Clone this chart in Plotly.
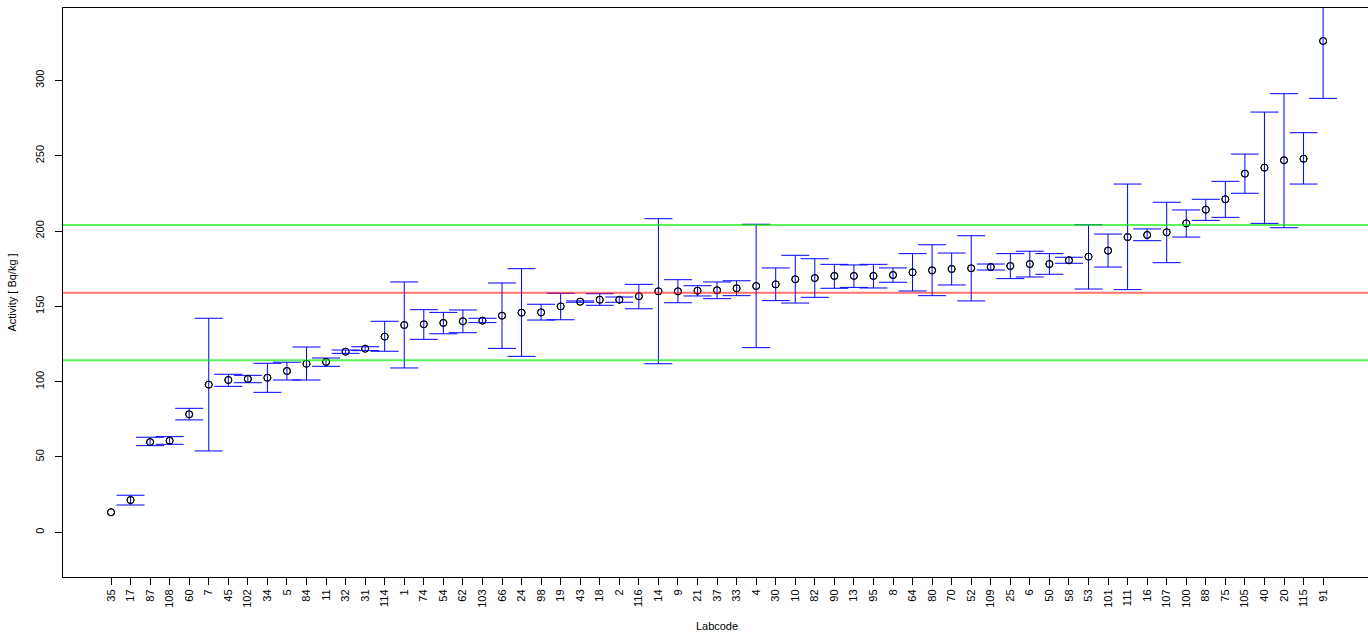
import plotly.graph_objects as go

labcodes = ["35", "17", "87", "108", "60", "7", "45", "102", "34", "5", "84", "11", "32", "31",
            "114", "1", "74", "54", "62", "103", "66", "24", "98", "19", "43", "18", "2", "116",
            "14", "9", "21", "37", "33", "4", "30", "10", "82", "90", "13", "95", "8", "64", "80",
            "70", "52", "109", "25", "6", "50", "58", "53", "101", "111", "16", "107", "100", "88",
            "75", "105", "40", "20", "115", "91"]

activity = [13.3, 21.4, 59.9, 60.8, 78.3, 98.0, 101.1, 101.8, 102.6, 107.1, 111.9, 113.1, 119.9, 121.9,
            129.9, 137.6, 138.1, 139.0, 140.1, 140.5, 143.8, 145.8, 146.0, 150.0, 153.1, 154.4, 154.4, 156.7,
            160.0, 160.0, 160.4, 160.7, 162.0, 163.5, 164.6, 168.0, 168.8, 170.2, 170.2, 170.2, 170.8, 172.6, 173.9,
            174.8, 175.3, 176.1, 176.8, 178.1, 178.1, 180.6, 183.0, 187.0, 196.0, 197.4, 199.2, 205.1, 214.2,
            221.1, 238.1, 242.1, 247.0, 248.0, 326.2]

upper = [None, 24.6, 63.1, 63.5, 82.3, 142.1, 104.9, 104.2, 112.2, 112.9, 123.0, 115.7, 121.0, 123.2,
         140.1, 166.2, 147.8, 146.0, 147.6, 142.1, 165.5, 175.0, 151.4, 158.7, 153.6, 158.4, 156.2, 164.6,
         208.2, 167.7, 163.7, 166.2, 167.0, 204.5, 175.5, 183.9, 181.6, 177.9, 177.5, 177.9, 175.5, 185.0, 190.9,
         185.4, 196.9, 178.1, 185.0, 186.6, 185.0, 182.6, 204.2, 198.0, 231.2, 201.4, 219.1, 214.0, 221.1,
         233.0, 251.1, 279.0, 291.2, 265.3, 364.3]

lower = [None, 18.1, 57.5, 58.4, 74.6, 54.0, 96.9, 99.3, 92.9, 101.1, 101.1, 110.2, 118.8, 120.6,
         120.2, 109.1, 128.1, 131.8, 132.5, 139.2, 122.1, 116.8, 140.9, 141.1, 152.7, 150.7, 152.7, 148.4,
         111.9, 152.4, 156.9, 155.1, 157.1, 122.6, 153.8, 152.2, 156.0, 162.0, 162.6, 162.2, 166.0, 160.2, 157.1,
         164.2, 153.6, 174.1, 168.4, 169.5, 171.3, 178.6, 161.5, 176.1, 161.1, 193.6, 179.0, 196.0, 207.1,
         209.1, 225.1, 205.1, 202.2, 231.2, 288.1]

ref_mean = [159.1]
ref_limits = [114.2, 204.1]
y_ticks = [0, 50, 100, 150, 200, 250, 300]

# only labs with an uncertainty get an error bar
idx = [i for i, u in enumerate(upper) if u is not None]
eb_x = [labcodes[i] for i in idx]
eb_y = [activity[i] for i in idx]
eb_plus = [round(upper[i] - activity[i], 2) for i in idx]
eb_minus = [round(activity[i] - lower[i], 2) for i in idx]

fig = go.Figure()
fig.add_trace(go.Scatter(
    x=labcodes, y=activity, mode="markers",
    marker=dict(symbol="circle-open", size=7, color="black", line=dict(width=1, color="black")),
    showlegend=False, hoverinfo="skip",
))
fig.add_trace(go.Scatter(
    x=eb_x, y=eb_y, mode="markers",
    marker=dict(size=0.1, opacity=0),
    error_y=dict(type="data", symmetric=False, array=eb_plus, arrayminus=eb_minus,
                 color="#0000ff", thickness=1, width=14),
    showlegend=False,
))
fig.add_trace(go.Scatter(
    x=labcodes, y=activity, mode="markers",
    marker=dict(symbol="circle-open", size=7, color="black", line=dict(width=1, color="black")),
    showlegend=False,
))

for yv in ref_limits:
    fig.add_hline(y=yv, line=dict(color="rgba(0,235,0,0.65)", width=2), layer="above")
for yv in ref_mean:
    fig.add_hline(y=yv, line=dict(color="rgba(255,0,0,0.55)", width=2), layer="above")

axis_font = dict(family="Liberation Sans, Arial, sans-serif", size=11, color="black")

# plot box continues just past the right edge of the window (as in the original)
fig.update_layout(
    width=1371, height=635,
    margin=dict(l=63, r=0, t=8, b=58, pad=0),
    paper_bgcolor="white", plot_bgcolor="white",
    font=axis_font,
    xaxis=dict(
        type="category", categoryorder="array", categoryarray=labcodes,
        range=[-2.455, 64.45], automargin=False,
        showline=True, linecolor="black", linewidth=1, mirror=True,
        ticks="outside", ticklen=7, tickcolor="black", tickwidth=1,
        tickangle=-90, tickfont=axis_font,
        showgrid=False, zeroline=False,
        title=dict(text="Labcode", font=axis_font, standoff=15),
    ),
    yaxis=dict(
        range=[-29.7, 348.1], automargin=False,
        tickvals=y_ticks, ticktext=[str(t) for t in y_ticks],
        showline=True, linecolor="black", linewidth=1, mirror=False,
        ticks="outside", ticklen=7, tickcolor="black", tickwidth=1,
        tickangle=-90, tickfont=axis_font, ticklabelstandoff=7,
        showgrid=False, zeroline=False,
        title=dict(text="Activity [ Bq/kg ]", font=axis_font, standoff=14),
    ),
)

fig.write_html(
    "out.html",
    config={"displayModeBar": False},
    post_script="document.body.style.margin='0';document.body.style.overflow='hidden';",
)
